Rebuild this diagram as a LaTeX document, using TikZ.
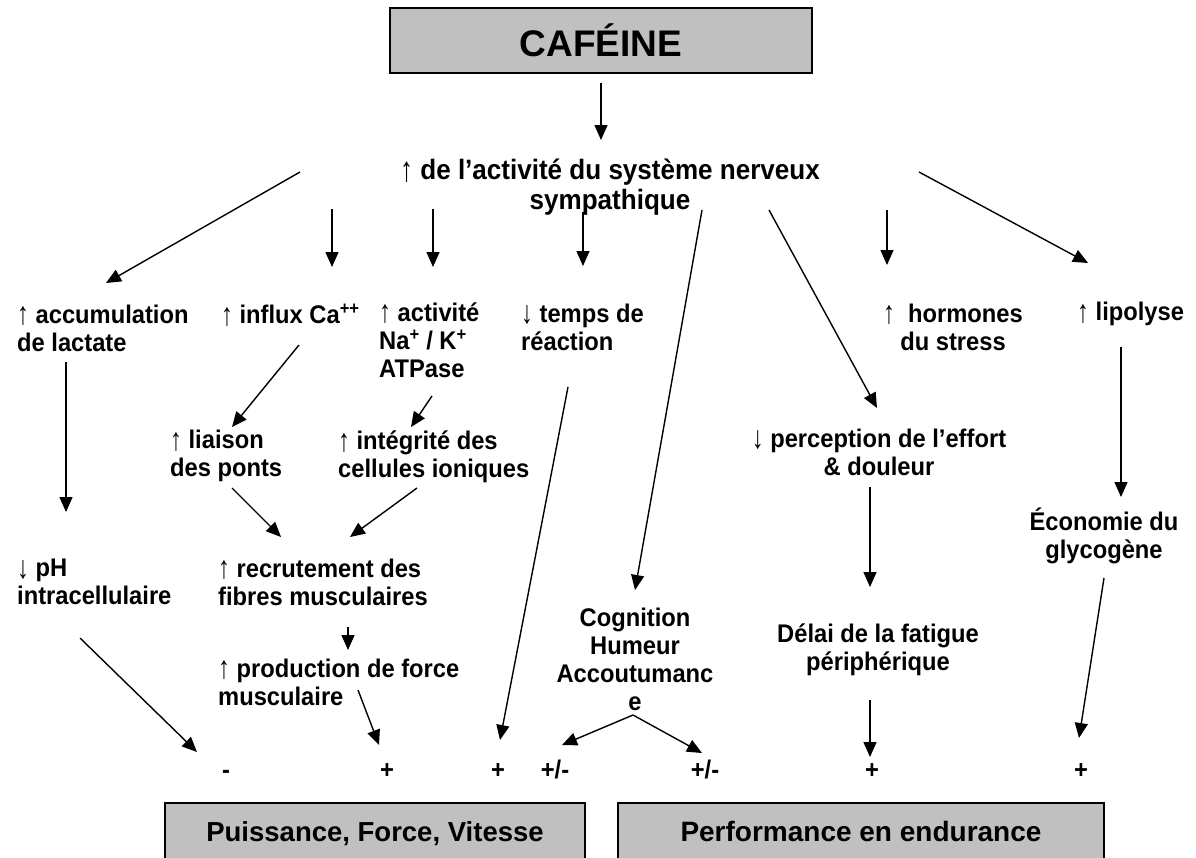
\documentclass[tikz,border=0pt]{standalone}
\usepackage{fontspec}
\usepackage{graphicx}
\setmainfont{Liberation Sans}[FakeStretch=0.93]
\newfontfamily\boxfont{Liberation Sans}
\usetikzlibrary{arrows.meta}

\definecolor{boxgray}{HTML}{C0C0C0}
\tikzset{
  txt/.style={font=\bfseries\fontsize{25.5}{28}\selectfont, inner sep=0pt},
  grybox/.style={draw, line width=2pt, fill=boxgray, inner sep=0pt},
  arr/.style={line width=1.4pt, -{Triangle[length=15pt, width=13pt]}},
}
\newcommand{\incr}{\raisebox{-0.06em}{\scalebox{1}[1.25]{\mdseries ↑}}}
\newcommand{\decr}{\raisebox{-0.06em}{\scalebox{1}[1.25]{\mdseries ↓}}}

\begin{document}
\begin{tikzpicture}[x=1pt, y=-1pt]
  \useasboundingbox (0,0) rectangle (1196,857);

  % title and first level
  \node[grybox, minimum width=422pt, minimum height=65pt,
        font=\boxfont\bfseries\fontsize{37}{40}\selectfont] (caf) at (601,40.5) {CAFÉINE};
  \node[txt, align=center, font=\bfseries\fontsize{28}{30}\selectfont] (sns) at (610,187)
       {\incr{} de l’activité du système nerveux\\sympathique};

  % second row
  \node[txt, align=left, anchor=west] (lact) at (17,328) {\incr{} accumulation\\de lactate};
  \node[txt, anchor=west] (ca) at (221,315) {\incr{} influx Ca\textsuperscript{++}};
  \node[txt, align=left, anchor=west] (atp) at (379,340)
       {\incr{} activité\\Na\textsuperscript{+} / K\textsuperscript{+}\\ATPase};
  \node[txt, align=left, anchor=west] (temps) at (521,327) {\decr{} temps de\\réaction};
  \node[txt, align=center] (horm) at (953,327) {\incr{} \ hormones\\du stress};
  \node[txt, anchor=west] (lipo) at (1077,314) {\incr{} lipolyse};

  % third row
  \node[txt, align=left, anchor=west] (liais) at (170,456) {\incr{} liaison\\des ponts};
  \node[txt, align=left, anchor=west] (integ) at (338,457) {\incr{} intégrité des\\cellules ioniques};
  \node[txt, align=center] (perc) at (879,452) {\decr{} perception de l’effort\\\& douleur};
  \node[txt, align=center] (econ) at (1104,536) {Économie du\\glycogène};

  % fourth row
  \node[txt, align=left, anchor=west] (ph) at (17,582) {\decr{} pH\\intracellulaire};
  \node[txt, align=left, anchor=west] (recr) at (218,582) {\incr{} recrutement des\\fibres musculaires};
  \node[txt, align=left, anchor=west] (prod) at (218,682) {\incr{} production de force\\musculaire};
  \node[txt, align=center] (cogn) at (635,659) {Cognition\\Humeur\\Accoutumanc\\e};
  \node[txt, align=center] (delai) at (878,650) {Délai de la fatigue\\périphérique};

  % signs
  \node[txt, anchor=base] (sm1) at (226,778) {-};
  \node[txt, anchor=base] (sp1) at (387,778) {+};
  \node[txt, anchor=base] (sp2) at (498,778) {+};
  \node[txt, anchor=base] (spm1) at (555,778) {+/-};
  \node[txt, anchor=base] (spm2) at (705,778) {+/-};
  \node[txt, anchor=base] (sp3) at (872,778) {+};
  \node[txt, anchor=base] (sp4) at (1081,778) {+};

  % outcome boxes
  \node[grybox, minimum width=420pt, text height=38pt, text depth=40pt, anchor=base,
        font=\boxfont\bfseries\fontsize{27.5}{32}\selectfont] (puiss) at (375,841) {Puissance, Force, Vitesse};
  \node[grybox, minimum width=486pt, text height=38pt, text depth=40pt, anchor=base,
        font=\boxfont\bfseries\fontsize{28}{32}\selectfont] (perf) at (861,841) {Performance en endurance};

  % arrow ends
  \coordinate (caf-out) at (601,83);   \coordinate (sns-in) at (601,140);
  \coordinate (sns-o1) at (300,172);   \coordinate (lact-in) at (106,283);
  \coordinate (sns-o2) at (332,209);   \coordinate (ca-in) at (332,267);
  \coordinate (sns-o3) at (433,209);   \coordinate (atp-in) at (433,267);
  \coordinate (sns-o4) at (583,212);   \coordinate (temps-in) at (583,266);
  \coordinate (sns-o5) at (702,210);   \coordinate (cogn-in) at (635,590);
  \coordinate (sns-o6) at (769,210);   \coordinate (perc-in) at (877,408);
  \coordinate (sns-o7) at (887,210);   \coordinate (horm-in) at (887,265);
  \coordinate (sns-o8) at (919,172);   \coordinate (lipo-in) at (1088,263);
  \coordinate (lact-out) at (66,362);  \coordinate (ph-in) at (66,512);
  \coordinate (ca-out) at (299,345);   \coordinate (liais-in) at (232,427);
  \coordinate (atp-out) at (432,396);  \coordinate (integ-in) at (411,427);
  \coordinate (temps-out) at (568,387); \coordinate (sp2-in) at (500,740);
  \coordinate (lipo-out) at (1121,347); \coordinate (econ-in) at (1121,497);
  \coordinate (perc-out) at (870,487); \coordinate (delai-in) at (870,587);
  \coordinate (liais-out) at (232,488); \coordinate (recr-in1) at (281,537);
  \coordinate (integ-out) at (417,488); \coordinate (recr-in2) at (350,537);
  \coordinate (econ-out) at (1104,578); \coordinate (sp4-in) at (1079,738);
  \coordinate (recr-out) at (348,627); \coordinate (prod-in) at (348,650);
  \coordinate (ph-out) at (80,638);    \coordinate (sm1-in) at (197,752);
  \coordinate (prod-out) at (358,690); \coordinate (sp1-in) at (379,745);
  \coordinate (cogn-out) at (633,715); \coordinate (spm1-in) at (562,745);
  \coordinate (spm2-in) at (702,753);
  \coordinate (delai-out) at (870,700); \coordinate (sp3-in) at (870,757);

  \draw[arr] (caf-out) -- (sns-in);
  \draw[arr] (sns-o1) -- (lact-in);
  \draw[arr] (sns-o2) -- (ca-in);
  \draw[arr] (sns-o3) -- (atp-in);
  \draw[arr] (sns-o4) -- (temps-in);
  \draw[arr] (sns-o5) -- (cogn-in);
  \draw[arr] (sns-o6) -- (perc-in);
  \draw[arr] (sns-o7) -- (horm-in);
  \draw[arr] (sns-o8) -- (lipo-in);
  \draw[arr] (lact-out) -- (ph-in);
  \draw[arr] (ca-out) -- (liais-in);
  \draw[arr] (atp-out) -- (integ-in);
  \draw[arr] (temps-out) -- (sp2-in);
  \draw[arr] (lipo-out) -- (econ-in);
  \draw[arr] (perc-out) -- (delai-in);
  \draw[arr] (liais-out) -- (recr-in1);
  \draw[arr] (integ-out) -- (recr-in2);
  \draw[arr] (econ-out) -- (sp4-in);
  \draw[arr] (recr-out) -- (prod-in);
  \draw[arr] (ph-out) -- (sm1-in);
  \draw[arr] (prod-out) -- (sp1-in);
  \draw[arr] (cogn-out) -- (spm1-in);
  \draw[arr] (cogn-out) -- (spm2-in);
  \draw[arr] (delai-out) -- (sp3-in);
\end{tikzpicture}
\end{document}
